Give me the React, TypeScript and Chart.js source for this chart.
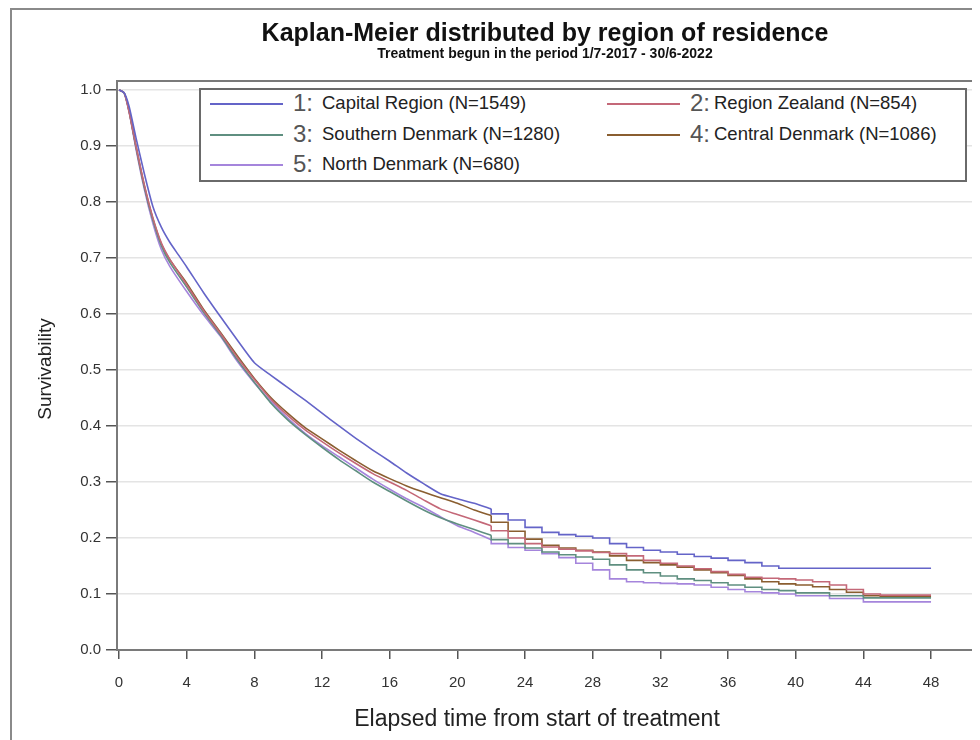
import React, { useEffect, useRef } from 'react';
import { Chart, registerables } from 'chart.js';

Chart.register(...registerables);

// ---------- data ----------
const seriesNumbers = ['1', '2', '3', '4', '5'];
const seriesNames = [
  'Capital Region (N=1549)',
  'Region Zealand (N=854)',
  'Southern Denmark (N=1280)',
  'Central Denmark (N=1086)',
  'North Denmark (N=680)',
];
const seriesColors = ['#6464c8', '#c46878', '#5f8f80', '#8a5e30', '#a585dc'];

const capitalTime = [0, 0.3, 0.6, 1, 1.5, 2, 2.5, 3, 3.5, 4, 5, 6, 7, 8, 9, 10, 11, 12, 13, 14, 15, 16, 17, 18, 19, 20, 21, 22, 23, 24, 25, 26, 27, 28, 29, 30, 31, 32, 33, 34, 35, 36, 37, 38, 39, 45.5, 48];
const capitalSurv = [1.0, 0.995, 0.97, 0.915, 0.85, 0.792, 0.755, 0.728, 0.706, 0.684, 0.638, 0.595, 0.553, 0.513, 0.49, 0.468, 0.446, 0.423, 0.4, 0.378, 0.357, 0.337, 0.316, 0.297, 0.279, 0.27, 0.262, 0.252, 0.243, 0.232, 0.219, 0.21, 0.206, 0.203, 0.2, 0.19, 0.183, 0.178, 0.175, 0.171, 0.167, 0.164, 0.16, 0.156, 0.15, 0.146, 0.146];

const zealandTime = [0, 0.3, 0.6, 1, 1.5, 2, 2.5, 3, 4, 5, 6, 7, 8, 9, 10, 11, 12, 13, 14, 15, 16, 17, 18, 19, 20, 21, 22, 23, 24, 25, 26, 27, 28, 29, 30, 31, 32, 33, 34, 35, 36, 37, 38, 39, 40, 41, 42, 43, 44, 45, 48];
const zealandSurv = [1.0, 0.995, 0.96, 0.9, 0.83, 0.772, 0.727, 0.698, 0.652, 0.606, 0.565, 0.522, 0.483, 0.447, 0.418, 0.393, 0.372, 0.352, 0.333, 0.315, 0.3, 0.285, 0.268, 0.252, 0.242, 0.232, 0.222, 0.213, 0.2, 0.19, 0.184, 0.18, 0.177, 0.174, 0.172, 0.168, 0.16, 0.155, 0.15, 0.145, 0.14, 0.135, 0.13, 0.128, 0.127, 0.125, 0.122, 0.116, 0.108, 0.1, 0.098];

const southernTime = [0, 0.3, 0.6, 1, 1.5, 2, 2.5, 3, 4, 5, 6, 7, 8, 9, 10, 11, 12, 13, 14, 15, 16, 17, 18, 19, 20, 21, 22, 23, 24, 25, 26, 27, 28, 29, 30, 31, 32, 33, 34, 35, 36, 37, 38, 39, 40, 42, 44, 46, 48];
const southernSurv = [1.0, 0.995, 0.962, 0.898, 0.826, 0.768, 0.722, 0.692, 0.648, 0.603, 0.562, 0.518, 0.478, 0.44, 0.41, 0.385, 0.362, 0.34, 0.32, 0.3, 0.283, 0.266, 0.25, 0.236, 0.225, 0.215, 0.205, 0.197, 0.19, 0.182, 0.175, 0.17, 0.166, 0.162, 0.152, 0.143, 0.138, 0.132, 0.127, 0.124, 0.12, 0.116, 0.112, 0.108, 0.106, 0.102, 0.097, 0.093, 0.093];

const centralTime = [0, 0.3, 0.6, 1, 1.5, 2, 2.5, 3, 4, 5, 6, 7, 8, 9, 10, 11, 12, 13, 14, 15, 16, 17, 18, 19, 20, 21, 22, 23, 24, 25, 26, 27, 28, 29, 30, 31, 32, 33, 34, 35, 36, 37, 38, 39, 40, 41, 42, 43, 44, 45, 48];
const centralSurv = [1.0, 0.995, 0.962, 0.9, 0.828, 0.77, 0.725, 0.697, 0.655, 0.608, 0.567, 0.525, 0.485, 0.45, 0.422, 0.397, 0.377, 0.357, 0.338, 0.32, 0.306, 0.293, 0.282, 0.272, 0.262, 0.25, 0.24, 0.228, 0.212, 0.198, 0.187, 0.182, 0.178, 0.175, 0.168, 0.16, 0.156, 0.152, 0.148, 0.143, 0.138, 0.133, 0.127, 0.122, 0.118, 0.116, 0.113, 0.108, 0.103, 0.097, 0.095];

const northTime = [0, 0.3, 0.6, 1, 1.5, 2, 2.5, 3, 4, 5, 6, 7, 8, 9, 10, 11, 12, 13, 14, 15, 16, 17, 18, 19, 20, 21, 22, 23, 24, 25, 26, 27, 28, 29, 30, 31, 32, 33, 34, 35, 36, 37, 38, 39, 40, 42, 44, 44.6, 48];
const northSurv = [1.0, 0.995, 0.96, 0.895, 0.822, 0.762, 0.715, 0.685, 0.64, 0.598, 0.56, 0.515, 0.477, 0.443, 0.413, 0.387, 0.365, 0.345, 0.325, 0.305, 0.287, 0.27, 0.255, 0.238, 0.222, 0.21, 0.197, 0.19, 0.183, 0.178, 0.172, 0.165, 0.155, 0.143, 0.127, 0.122, 0.12, 0.119, 0.118, 0.116, 0.112, 0.108, 0.104, 0.102, 0.1, 0.097, 0.092, 0.086, 0.086];

const xTickValues = [0, 4, 8, 12, 16, 20, 24, 28, 32, 36, 40, 44, 48];
const yTickValues = [0, 0.1, 0.2, 0.3, 0.4, 0.5, 0.6, 0.7, 0.8, 0.9, 1.0];

const titleText = 'Kaplan-Meier distributed by region of residence';
const subtitleText = 'Treatment begun in the period 1/7-2017 - 30/6-2022';
const xTitle = 'Elapsed time from start of treatment';
const yTitle = 'Survivability';

const allTimes = [capitalTime, zealandTime, southernTime, centralTime, northTime];
const allSurv = [capitalSurv, zealandSurv, southernSurv, centralSurv, northSurv];

// split point between the smooth early part and the stepped late part
const STEP_FROM = 22;

const FONT = '"Liberation Sans", Arial, sans-serif';

export default function App() {
  const canvasRef = useRef<HTMLCanvasElement | null>(null);

  useEffect(() => {
    const canvas = canvasRef.current;
    if (!canvas) return;

    const datasets: any[] = [];
    allTimes.forEach((times, i) => {
      const surv = allSurv[i];
      const pts = times.map((t, j) => ({ x: t, y: surv[j] }));
      datasets.push({
        label: seriesNames[i],
        data: pts.filter((p) => p.x <= STEP_FROM),
        borderColor: seriesColors[i],
        borderWidth: 1.6,
        pointRadius: 0,
        tension: 0.2,
        fill: false,
      });
      datasets.push({
        label: seriesNames[i] + ' (late)',
        data: pts.filter((p) => p.x >= STEP_FROM),
        borderColor: seriesColors[i],
        borderWidth: 1.6,
        pointRadius: 0,
        stepped: 'after',
        fill: false,
      });
    });

    const framePlugin = {
      id: 'frame',
      afterDraw(chart: any) {
        const { ctx, chartArea } = chart;
        ctx.save();
        ctx.strokeStyle = '#7a7a7a';
        ctx.lineWidth = 2;
        ctx.strokeRect(chartArea.left, chartArea.top, chartArea.right - chartArea.left, chartArea.bottom - chartArea.top);
        ctx.restore();
      },
    };

    const chart = new Chart(canvas, {
      type: 'line',
      data: { datasets },
      options: {
        animation: false,
        responsive: false,
        devicePixelRatio: 1,
        layout: { padding: { top: 73, left: 0, right: 7, bottom: 0 } },
        plugins: {
          legend: { display: false },
          tooltip: { enabled: false },
          title: { display: false },
        },
        scales: {
          x: {
            type: 'linear',
            min: -0.12,
            max: 50.48,
            afterFit(scale: any) {
              scale.height = 90;
            },
            afterBuildTicks(scale: any) {
              scale.ticks = xTickValues.map((v) => ({ value: v }));
            },
            ticks: {
              color: '#333',
              font: { family: FONT, size: 15 },
              padding: 15,
              maxRotation: 0,
              autoSkip: false,
              callback: (v: any) => String(v),
            },
            grid: {
              drawOnChartArea: false,
              drawTicks: true,
              tickLength: 9,
              tickColor: '#555',
              lineWidth: 1.5,
            },
            border: { display: false },
          },
          y: {
            type: 'linear',
            min: 0,
            max: 1.016,
            afterFit(scale: any) {
              scale.width = 109;
            },
            afterBuildTicks(scale: any) {
              scale.ticks = yTickValues.map((v) => ({ value: v }));
            },
            ticks: {
              color: '#333',
              font: { family: FONT, size: 15 },
              padding: 5,
              autoSkip: false,
              callback: (v: any) => Number(v).toFixed(1),
            },
            grid: {
              color: '#e4e4e4',
              lineWidth: 1.5,
              drawTicks: true,
              tickLength: 11,
              tickColor: '#555',
            },
            border: { display: false },
          },
        },
      },
      plugins: [framePlugin],
    });

    return () => {
      chart.destroy();
    };
  }, []);

  const legendRows = [
    [0, 1],
    [2, 3],
    [4],
  ];

  return (
    <div style={{ position: 'relative', width: 972, height: 732, overflow: 'hidden', background: '#fff', fontFamily: FONT }}>
      <div style={{ position: 'absolute', left: 2, top: 0, width: 1000, height: 800, border: '2px solid #8a8a8a', boxSizing: 'border-box' }} />
      <canvas ref={canvasRef} width={972} height={732} style={{ position: 'absolute', left: 0, top: 0, width: 972, height: 732 }} />
      <div style={{ position: 'absolute', left: 0, width: 1074, top: 9, textAlign: 'center', fontWeight: 'bold', fontSize: 25, color: '#111', whiteSpace: 'nowrap', lineHeight: '30px' }}>{titleText}</div>
      <div style={{ position: 'absolute', left: 0, width: 1074, top: 37, textAlign: 'center', fontWeight: 'bold', fontSize: 14, color: '#111', whiteSpace: 'nowrap', lineHeight: '16px' }}>{subtitleText}</div>
      <div style={{ position: 'absolute', left: 0, top: 696, width: 1058, textAlign: 'center', fontSize: 23, color: '#222', whiteSpace: 'nowrap', lineHeight: '28px' }}>{xTitle}</div>
      <div style={{ position: 'absolute', left: 37, top: 361, width: 0, height: 0 }}>
        <div style={{ position: 'absolute', left: -100, top: -12, width: 200, textAlign: 'center', fontSize: 19, color: '#222', transform: 'rotate(-90deg)', whiteSpace: 'nowrap', lineHeight: '24px' }}>{yTitle}</div>
      </div>
      <div style={{ position: 'absolute', left: 191, top: 80, width: 768, height: 94, border: '2px solid #6a6a6a', boxSizing: 'border-box', background: '#fff' }}>
        {legendRows.map((row, r) =>
          row.map((idx, c) => {
            const baseX = c === 0 ? 0 : 397;
            const cy = 14 + r * 30.5;
            return (
              <React.Fragment key={idx}>
                <div style={{ position: 'absolute', left: baseX + 9, top: cy - 1, width: 73, height: 2, background: seriesColors[idx] }} />
                <div style={{ position: 'absolute', left: baseX + 92, top: cy - 15, fontSize: 24, color: '#555', lineHeight: '28px', whiteSpace: 'nowrap' }}>{seriesNumbers[idx]}:</div>
                <div style={{ position: 'absolute', left: baseX + (c === 0 ? 121 : 116), top: cy - 12, fontSize: 18.5, color: '#222', lineHeight: '22px', whiteSpace: 'nowrap' }}>{seriesNames[idx]}</div>
              </React.Fragment>
            );
          })
        )}
      </div>
    </div>
  );
}
